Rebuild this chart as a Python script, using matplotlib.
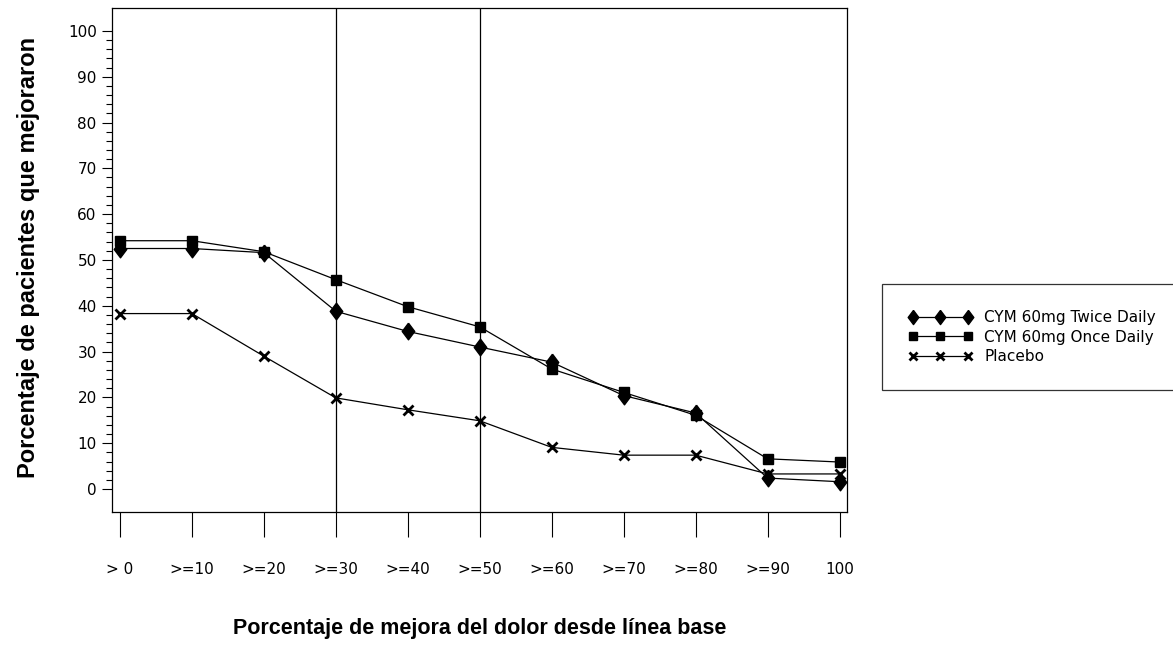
import matplotlib.pyplot as plt
from matplotlib.ticker import MultipleLocator, FixedLocator

categories = ['> 0', '>=10', '>=20', '>=30', '>=40', '>=50', '>=60', '>=70', '>=80', '>=90', '100']
twice_daily = [52.5, 52.5, 51.6, 38.8, 34.4, 31.0, 27.7, 20.4, 16.6, 2.4, 1.6]
once_daily = [54.2, 54.2, 51.8, 45.7, 39.8, 35.4, 26.2, 21.1, 16.1, 6.6, 5.9]
placebo = [38.3, 38.3, 29.0, 19.9, 17.3, 14.9, 9.1, 7.4, 7.4, 3.3, 3.3]
legend_labels = ['CYM 60mg Twice Daily', 'CYM 60mg Once Daily', 'Placebo']
ref_lines = [3, 5]

fig = plt.figure(figsize=(11.73, 6.47), dpi=100)
ax = fig.add_axes([0.0955, 0.2087, 0.627, 0.779])

# slightly tall diamond like the original
diamond = [(0, 1), (0.75, 0), (0, -1), (-0.75, 0), (0, 1)]

x = list(range(len(categories)))
series = [twice_daily, once_daily, placebo]
markers = [diamond, 's', 'x']
sizes = [12, 7, 7]
for vals, m, s, lab in zip(series, markers, sizes, legend_labels):
    ax.plot(x, vals, color='black', lw=0.9, marker=m, ms=s, mew=2 if m == 'x' else 1,
            label=lab)

for xv in ref_lines:
    ax.axvline(xv, color='black', lw=0.9, zorder=0)

ax.set_xlim(-0.11, 10.11)
ax.set_ylim(-5, 105)
ax.set_xticks(x)
ax.set_xticklabels(categories, fontsize=11)
ax.yaxis.set_major_locator(MultipleLocator(10))
ax.yaxis.set_minor_locator(FixedLocator([v for v in range(0, 101, 2) if v % 10]))
ax.set_yticks(range(0, 101, 10))
ax.tick_params(axis='y', which='major', length=7, width=0.8, pad=4, labelsize=11)
ax.tick_params(axis='y', which='minor', length=4, width=0.8)
ax.tick_params(axis='x', which='major', length=18, width=0.8, pad=18)
for sp in ax.spines.values():
    sp.set_linewidth(0.9)

ax.set_ylabel('Porcentaje de pacientes que mejoraron', fontsize=17, fontweight='bold',
              family='Liberation Sans', va='center', ha='center')
ax.set_xlabel('Porcentaje de mejora del dolor desde línea base', fontsize=15.5,
              fontweight='bold', family='Liberation Sans', va='center', ha='center')
ax.yaxis.set_label_coords(-0.114, 0.505)
ax.xaxis.set_label_coords(0.5, -0.232)

leg = fig.legend(loc='center left', bbox_to_anchor=(0.752, 0.397, 0.26, 0.164),
                 mode='expand', numpoints=3, handlelength=4.2, handletextpad=0.8,
                 borderpad=1.7, labelspacing=0.3, fontsize=11, fancybox=False,
                 edgecolor='black', borderaxespad=0, markerscale=0.85)
leg.get_frame().set_linewidth(0.9)

plt.savefig('out.png', dpi=100)
